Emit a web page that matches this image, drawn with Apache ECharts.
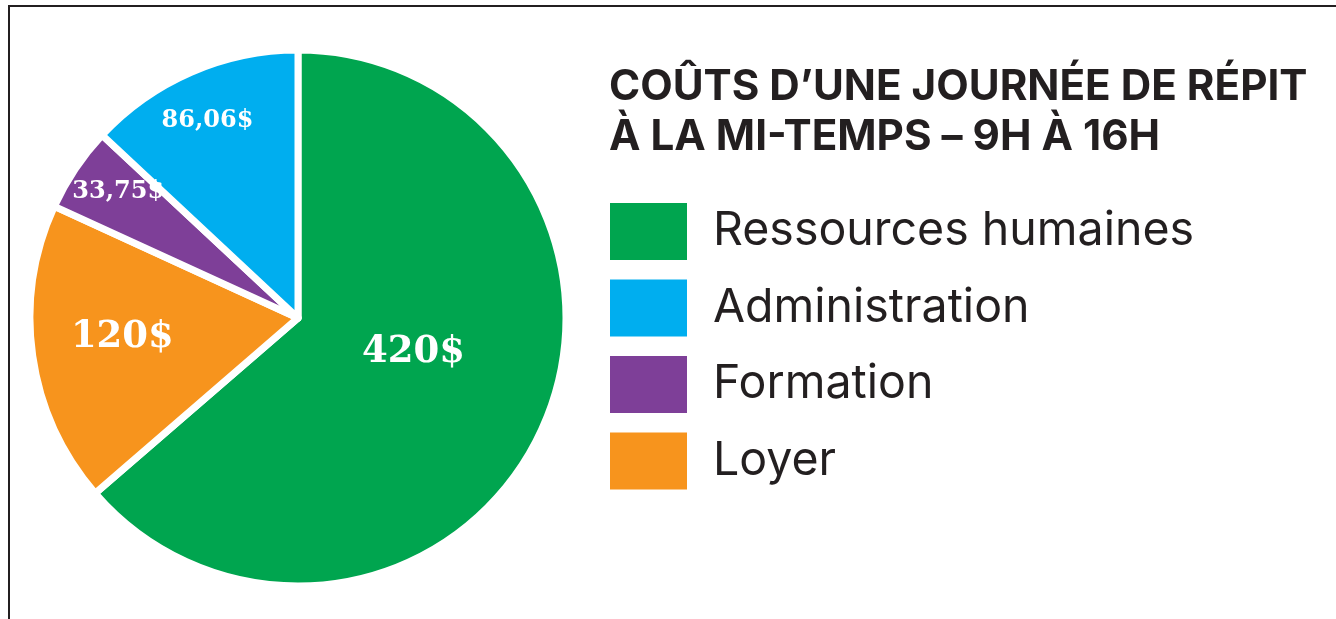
<!DOCTYPE html>
<html>
<head>
<meta charset="utf-8">
<script src="https://cdn.jsdelivr.net/npm/echarts@6/dist/echarts.min.js"></script>
<style>
  html, body { margin: 0; padding: 0; background: #ffffff; }
  #wrap { position: relative; width: 1336px; height: 619px; overflow: hidden; }
  #frame { position: absolute; left: 8px; top: 5px; right: -10px; bottom: -10px;
           border-left: 2.5px solid #231f20; border-top: 2.5px solid #231f20; box-sizing: border-box; }
  #chart { position: absolute; left: 0; top: 0; width: 1336px; height: 619px; }
</style>
</head>
<body>
<div id="wrap">
  <div id="frame"></div>
  <div id="chart"></div>
</div>
<script>
// ---- data ----
const titleLines = ['COÛTS D\u2019UNE JOURNÉE DE RÉPIT', 'À LA MI-TEMPS \u2013 9H À 16H'];
const categories = ['Ressources humaines', 'Loyer', 'Formation', 'Administration'];
const values = [420, 120, 33.75, 86.06];
const valueLabels = ['420$', '120$', '33,75$', '86,06$'];
const legendOrder = ['Ressources humaines', 'Administration', 'Formation', 'Loyer'];

// ---- styles ----
const colors = ['#00a54f', '#f7941d', '#7e3f98', '#00aeef'];
const labelSizes = [37, 37, 24, 24];
const labelShift = [[-9, -23], [-40, 0], [-66, -50], [-36, -72]];

const chart = echarts.init(document.getElementById('chart'), null, { renderer: 'canvas' });

const seriesData = categories.map((c, i) => ({
  name: c,
  value: values[i],
  itemStyle: { color: colors[i] },
  label: { formatter: valueLabels[i], fontSize: labelSizes[i] }
}));

chart.setOption({
  animation: false,
  title: {
    text: titleLines.join('\n'),
    left: 609,
    top: 62,
    padding: 0,
    textStyle: {
      fontFamily: 'Inter',
      fontWeight: 'bold',
      fontSize: 42.2,
      lineHeight: 50,
      color: '#231f20'
    }
  },
  legend: {
    orient: 'vertical',
    left: 610,
    top: 203,
    padding: 0,
    itemWidth: 77,
    itemHeight: 57,
    itemGap: 19.5,
    icon: 'rect',
    selectedMode: false,
    data: legendOrder,
    itemStyle: { borderWidth: 0 },
    textStyle: {
      fontFamily: 'Inter',
      fontSize: 46.5,
      color: '#231f20',
      padding: [6, 0, 0, 21]
    }
  },
  series: [{
    type: 'pie',
    center: [298, 318],
    radius: [0, 268],
    startAngle: 90,
    clockwise: true,
    avoidLabelOverlap: false,
    itemStyle: { borderColor: '#ffffff', borderWidth: 7 },
    label: {
      show: true,
      position: 'inside',
      color: '#ffffff',
      fontFamily: 'DejaVu Serif',
      fontWeight: 'bold'
    },
    labelLine: { show: false },
    emphasis: { disabled: true },
    labelLayout: function (params) {
      const s = labelShift[params.dataIndex];
      return { dx: s[0], dy: s[1] };
    },
    data: seriesData
  }]
});
</script>
</body>
</html>
